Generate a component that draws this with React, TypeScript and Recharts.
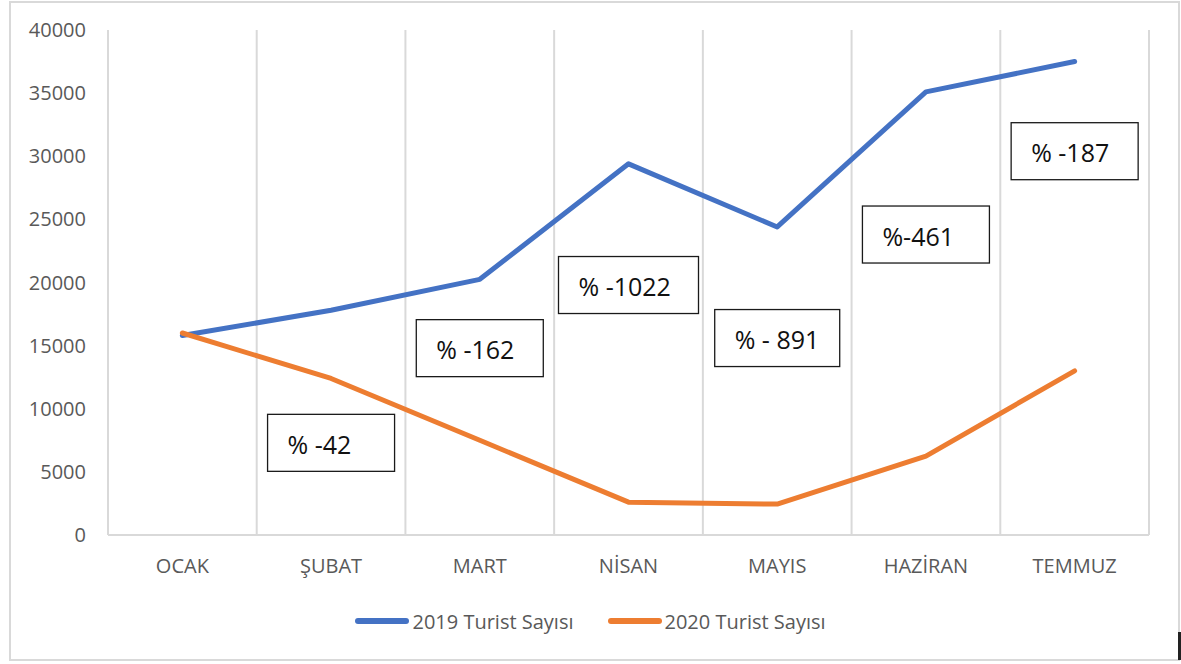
import { LineChart, Line, XAxis, YAxis, CartesianGrid, Legend, ReferenceDot } from 'recharts'

const months = ['OCAK', 'ŞUBAT', 'MART', 'NİSAN', 'MAYIS', 'HAZİRAN', 'TEMMUZ']
const tourists2019 = [15800, 17800, 20250, 29400, 24400, 35100, 37500]
const tourists2020 = [16000, 12400, 7500, 2600, 2450, 6250, 13000]
const yTicks = [0, 5000, 10000, 15000, 20000, 25000, 30000, 35000, 40000]

// change labels, placed over each month (level in tourist units)
const changeMonths = ['ŞUBAT', 'MART', 'NİSAN', 'MAYIS', 'HAZİRAN', 'TEMMUZ']
const changeLabels = ['% -42', '% -162', '% -1022', '% - 891', '%-461', '% -187']
const changeLevels = [7300, 14800, 19800, 15600, 23800, 30400]

const data = months.map((m, i) => ({ month: m, y2019: tourists2019[i], y2020: tourists2020[i] }))

const BLUE = '#4472C4'
const ORANGE = '#ED7D31'
const GRID = '#D9D9D9'
const TEXT = '#595959'
const FONT = '"Open Sans", sans-serif'

const boxWidths = [127, 127, 140, 125, 127, 127]

function ChangeBox({ cx, cy, label, w }: { cx?: number; cy?: number; label: string; w: number }) {
  if (cx == null || cy == null) return null
  const h = 57
  return (
    <g>
      <rect x={cx - w / 2} y={cy - h / 2} width={w} height={h} fill="#fff" stroke="#1a1a1a" strokeWidth={1.3} />
      <text x={cx - w / 2 + 20} y={cy + 1} fontSize={25} fontFamily={FONT} fill="#111" dominantBaseline="central">
        {label}
      </text>
    </g>
  )
}

function LegendContent() {
  const items = [
    { name: '2019 Turist Sayısı', color: BLUE },
    { name: '2020 Turist Sayısı', color: ORANGE },
  ]
  return (
    <div style={{ display: 'flex', justifyContent: 'center', gap: 34, height: 30, alignItems: 'center', fontFamily: FONT, fontSize: 20, color: TEXT }}>
      {items.map((it) => (
        <div key={it.name} style={{ display: 'flex', alignItems: 'center' }}>
          <span style={{ display: 'inline-block', width: 54, height: 6, borderRadius: 3, background: it.color, marginRight: 3 }} />
          <span>{it.name}</span>
        </div>
      ))}
    </div>
  )
}

export default function App() {
  return (
    <div style={{ position: 'absolute', left: 0, top: 0, width: 1181, height: 664, background: '#fff' }}>
      <div style={{ position: 'absolute', left: 9, top: 1, width: 1167, height: 656, border: `2px solid ${GRID}`, boxSizing: 'content-box' }} />
      <div style={{ position: 'absolute', left: 1178, top: 632, width: 3, height: 28, background: '#222' }} />
      <LineChart width={1181} height={664} data={data} margin={{ top: 30, right: 32, bottom: 39, left: 0 }} style={{ position: 'absolute', left: 0, top: 0 }}>
        <CartesianGrid
          horizontal={false}
          stroke={GRID}
          strokeWidth={2}
          verticalCoordinatesGenerator={({ offset }: any) =>
            Array.from({ length: months.length + 1 }, (_, i) => offset.left + (i * offset.width) / months.length)
          }
        />
        <XAxis
          dataKey="month"
          scale="band"
          height={60}
          tickLine={false}
          tickSize={0}
          tickMargin={24}
          axisLine={{ stroke: GRID, strokeWidth: 2 }}
          tick={{ fill: TEXT, fontSize: 20, fontFamily: FONT }}
        />
        <YAxis
          width={108}
          domain={[0, 40000]}
          ticks={yTicks}
          axisLine={false}
          tickLine={false}
          tickSize={0}
          tickMargin={22}
          tick={{ fill: TEXT, fontSize: 20, fontFamily: FONT }}
        />
        <Legend
          verticalAlign="bottom"
          content={() => <LegendContent />}
          wrapperStyle={{ top: 606, bottom: 'auto', left: 0, width: 1181, height: 30 }}
        />
        <Line type="linear" dataKey="y2019" name="2019 Turist Sayısı" stroke={BLUE} strokeWidth={5} dot={false} strokeLinecap="round" strokeLinejoin="round" isAnimationActive={false} />
        <Line type="linear" dataKey="y2020" name="2020 Turist Sayısı" stroke={ORANGE} strokeWidth={5} dot={false} strokeLinecap="round" strokeLinejoin="round" isAnimationActive={false} />
        {changeLabels.map((label, i) => (
          <ReferenceDot
            key={label}
            x={changeMonths[i]}
            y={changeLevels[i]}
            ifOverflow="visible"
            shape={(p: any) => <ChangeBox cx={p.cx} cy={p.cy} label={label} w={boxWidths[i]} />}
          />
        ))}
      </LineChart>
    </div>
  )
}
